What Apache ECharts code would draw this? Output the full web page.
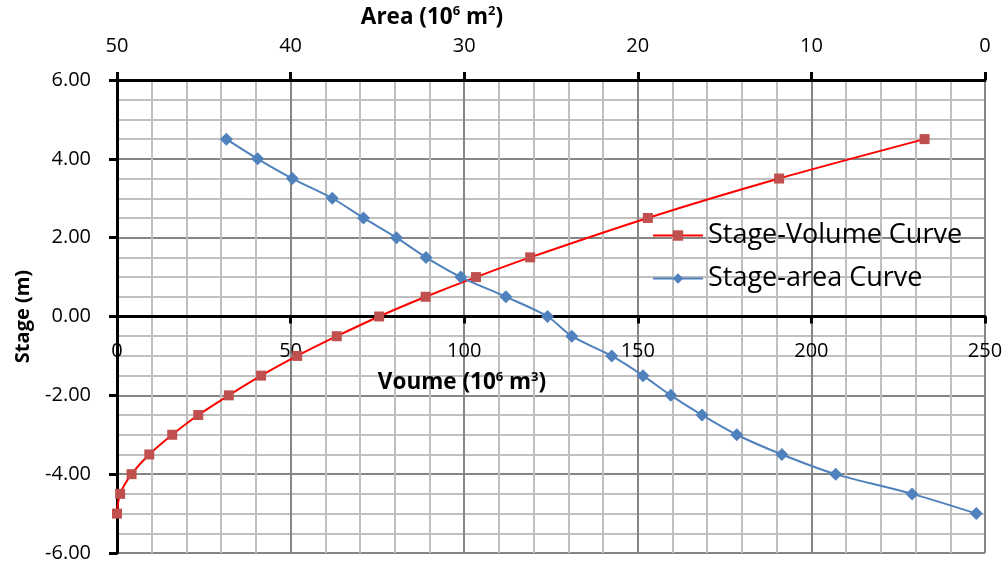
<!DOCTYPE html>
<html>
<head>
<meta charset="utf-8">
<script src="https://cdn.jsdelivr.net/npm/echarts@6/dist/echarts.min.js"></script>
<style>
  html, body { margin: 0; padding: 0; background: #fff; }
  #chart { width: 1007px; height: 564px; }
</style>
</head>
<body>
<div id="chart"></div>
<script>
var chart = echarts.init(document.getElementById('chart'));

// stage-volume curve (volume in 10^6 m3, stage in m)
var volStage = [-5, -4.5, -4, -3.5, -3, -2.5, -2, -1.5, -1, -0.5, 0, 0.5, 1, 1.5, 2.5, 3.5, 4.5];
var volume = [0, 0.9, 4.2, 9.3, 15.9, 23.4, 32.2, 41.5, 51.9, 63.3, 75.5, 88.9, 103.4, 119.0, 152.9, 190.7, 232.6];

// stage-area curve (area in 10^6 m2)
var areaStage = [4.5, 4, 3.5, 3, 2.5, 2, 1.5, 1, 0.5, 0, -0.5, -1, -1.5, -2, -2.5, -3, -3.5, -4, -4.5, -5];
var area = [43.7, 41.9, 39.9, 37.6, 35.8, 33.9, 32.2, 30.2, 27.6, 25.2, 23.8, 21.5, 19.7, 18.1, 16.3, 14.3, 11.7, 8.6, 4.2, 0.5];

var seriesNames = ['Stage-Volume Curve', 'Stage-area Curve'];

var font = 'Open Sans';
var minorGrid = '#BFBFBF';
var majorGrid = '#868686';

function pairs(xs, ys) {
	return xs.map(function (x, i) { return [x, ys[i]]; });
}

var supStyle = { fontSize: 13, fontWeight: 'bold', fontFamily: font, color: '#000', verticalAlign: 'top', lineHeight: 25 };

var option = {
	animation: false,
	grid: {
		left: 117,
		right: 22,
		top: 80,
		bottom: 11,
		containLabel: false,
		outerBoundsMode: 'none'
	},
	legend: {
		orient: 'vertical',
		left: 647,
		top: 217,
		itemWidth: 50,
		itemHeight: 13,
		itemGap: 16,
		data: seriesNames,
		textStyle: {
			fontFamily: font,
			fontSize: 27,
			color: '#000'
		}
	},
	xAxis: [{
		type: 'value',
		position: 'bottom',
		// volume axis sits on stage 0: half of the 473px plot height above the bottom
		offset: -236.5,
		min: 0,
		max: 250,
		interval: 50,
		name: 'Voume (10{sup|6} m{sup|3})',
		nameLocation: 'middle',
		nameGap: 54,
		nameTextStyle: {
			fontFamily: font,
			fontSize: 22.5,
			fontWeight: 'bold',
			color: '#000',
			lineHeight: 25,
			padding: [0, 178, 0, 0],
			rich: { sup: supStyle }
		},
		axisLine: { onZero: false, lineStyle: { color: '#000', width: 3 } },
		axisTick: { show: true, length: 7, lineStyle: { color: '#000', width: 3 } },
		axisLabel: { margin: 25, fontFamily: font, fontSize: 20, color: '#000', showMinLabel: true, showMaxLabel: true },
		splitLine: { show: true, lineStyle: { color: majorGrid, width: 2 } },
		minorTick: { show: false, splitNumber: 5 },
		minorSplitLine: { show: true, lineStyle: { color: minorGrid, width: 2 } }
	}, {
		type: 'value',
		position: 'top',
		min: 0,
		max: 50,
		interval: 10,
		inverse: true,
		name: 'Area (10{sup|6} m{sup|2})',
		nameLocation: 'middle',
		nameGap: 50,
		nameTextStyle: {
			fontFamily: font,
			fontSize: 22.5,
			fontWeight: 'bold',
			color: '#000',
			lineHeight: 25,
			padding: [0, 238, 0, 0],
			rich: { sup: supStyle }
		},
		axisLine: { onZero: false, lineStyle: { color: '#000', width: 3 } },
		axisTick: { show: true, length: 8, lineStyle: { color: '#000', width: 3 } },
		axisLabel: { margin: 24, fontFamily: font, fontSize: 20, color: '#000', showMinLabel: true, showMaxLabel: true },
		splitLine: { show: false }
	}],
	yAxis: {
		type: 'value',
		min: -6,
		max: 6,
		interval: 2,
		name: 'Stage (m)',
		nameLocation: 'middle',
		nameRotate: 90,
		nameGap: 84,
		nameTextStyle: {
			fontFamily: font,
			fontSize: 20,
			fontWeight: 'bold',
			color: '#000'
		},
		axisLine: { show: true, onZero: false, lineStyle: { color: '#000', width: 3 } },
		axisTick: { show: true, length: 8, lineStyle: { color: '#000', width: 3 } },
		axisLabel: {
			margin: 26,
			fontFamily: font,
			fontSize: 20,
			color: '#000',
			formatter: function (v) { return v.toFixed(2); }
		},
		splitLine: { show: true, lineStyle: { color: majorGrid, width: 2 } },
		minorTick: { show: false, splitNumber: 4 },
		minorSplitLine: { show: true, lineStyle: { color: minorGrid, width: 2 } }
	},
	series: [{
		name: seriesNames[0],
		type: 'line',
		xAxisIndex: 0,
		smooth: 0.3,
		symbol: 'rect',
		symbolSize: 10,
		data: pairs(volume, volStage),
		lineStyle: { color: '#FF0000', width: 2 },
		itemStyle: { color: '#C0504D' },
		z: 3
	}, {
		name: seriesNames[1],
		type: 'line',
		xAxisIndex: 1,
		smooth: 0.3,
		symbol: 'diamond',
		symbolSize: 13,
		data: pairs(area, areaStage),
		lineStyle: { color: '#4F81BD', width: 2 },
		itemStyle: { color: '#4F81BD' },
		z: 4
	}]
};

chart.setOption(option);
</script>
</body>
</html>
